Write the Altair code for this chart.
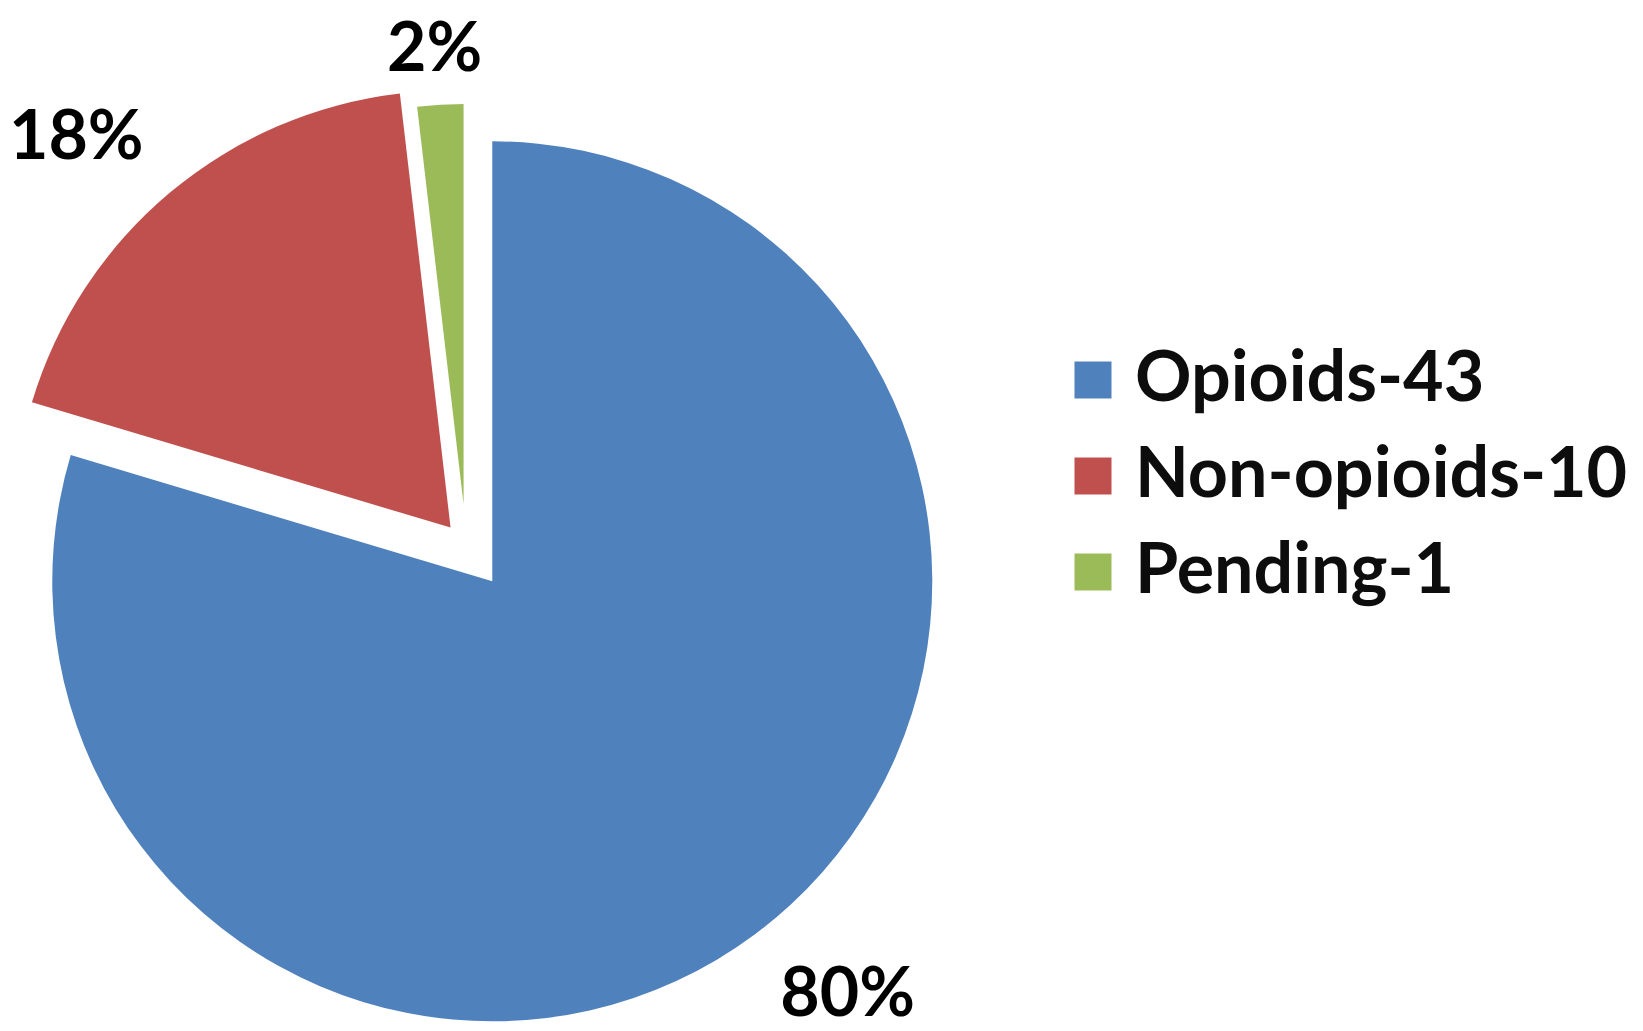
import altair as alt
import pandas as pd

# ---- data ----
categories = ["Opioids-43", "Non-opioids-10", "Pending-1"]
counts = [43, 10, 1]
percents = [80, 18, 2]

# ---- style ----
colors = ["#4F81BD", "#C0504D", "#9BBB59"]
CX, CY = 458, 538          # pie centre (chart pixels)
EXPLODE = [44, 24, 42]     # explosion of each slice (px)
RADII = [440, 437, 400]    # outer radius of each slice (px)
FONT = "Lato"

df = pd.DataFrame({"category": categories, "count": counts, "pct": percents})

base = (
    alt.Chart(df)
    .transform_window(idx="row_number()", cum="sum(count)", frame=[None, 0])
    .transform_joinaggregate(total="sum(count)")
    .transform_calculate(
        t1="2*PI*datum.cum/datum.total",
        t0="2*PI*(datum.cum-datum.count)/datum.total",
    )
    .transform_calculate(
        mid="(datum.t0+datum.t1)/2",
        ex=f"{EXPLODE}[datum.idx-1]",
        r=f"{RADII}[datum.idx-1]",
    )
    .transform_calculate(
        tx=f"{CX}+datum.ex*sin(datum.mid)",
        ty=f"{CY}-datum.ex*cos(datum.mid)",
    )
    .transform_calculate(
        lx="datum.tx+sin(datum.mid)*(datum.r+150)+3",
        ly="datum.ty-cos(datum.mid)*datum.r-(cos(datum.mid)>0?61:-55)",
        label="datum.pct+'%'",
    )
)

arcs = base.mark_arc().encode(
    x=alt.X("tx:Q", scale=None, axis=None),
    y=alt.Y("ty:Q", scale=None, axis=None),
    theta=alt.Theta("t0:Q", scale=None),
    theta2=alt.Theta2("t1:Q"),
    radius=alt.Radius("r:Q", scale=None),
    color=alt.Color(
        "category:N",
        sort=categories,
        scale=alt.Scale(domain=categories, range=colors),
        legend=alt.Legend(
            title=None,
            orient="none",
            legendX=1050,
            legendY=337,
            symbolType="square",
            symbolSize=1369,
            symbolStrokeWidth=0,
            symbolOffset=0,
            labelFont=FONT,
            labelFontSize=70,
            labelFontWeight="bold",
            labelColor="#0d0d0d",
            labelOffset=7,
            labelLimit=1000,
            rowPadding=26,
            padding=0,
        ),
    ),
)

labels = base.mark_text(
    font=FONT, fontSize=68, fontWeight="bold", color="#000000",
    align="center", baseline="middle", dy=7,
).encode(
    x=alt.X("lx:Q", scale=None, axis=None),
    y=alt.Y("ly:Q", scale=None, axis=None),
    text="label:N",
)

chart = (
    alt.layer(arcs, labels)
    .properties(width=1627, height=1015, padding=0, autosize=alt.AutoSizeParams(type="none"))
    .configure_view(stroke=None)
)

chart.save("out.html", embed_options={"renderer": "svg", "actions": False})
